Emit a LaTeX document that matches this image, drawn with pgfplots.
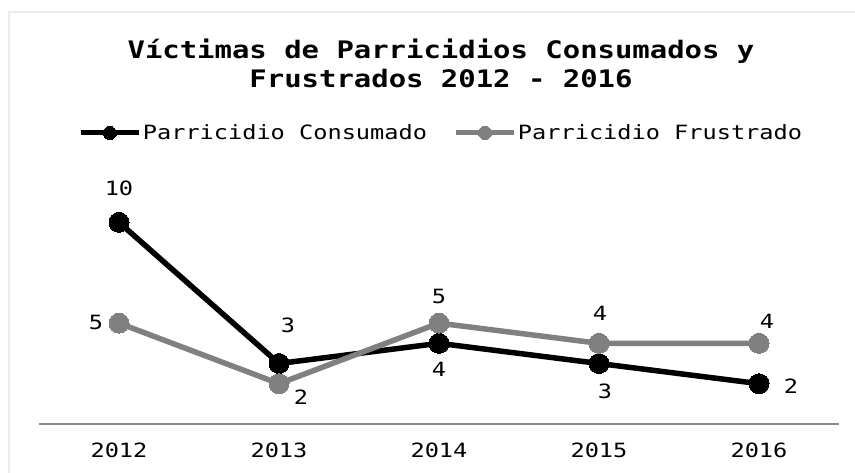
\documentclass[border=0pt]{standalone}
\usepackage{pgfplots}
\pgfplotsset{compat=1.18}
\usepackage{pgfplotstable}
\usepackage{fontspec}
\newfontfamily\chartfont[FakeStretch=1.2]{DejaVu Sans Mono}
\definecolor{serA}{RGB}{0,0,0}
\definecolor{serB}{RGB}{128,128,128}
\definecolor{axgray}{RGB}{137,137,137}
\definecolor{framegray}{RGB}{235,235,235}

\pgfplotstableread{
x y dx dy
0 10 0 34
1 3 9 38
2 4 0 -26
3 3 6 -28
4 2 32 -3
}\consumado
\pgfplotstableread{
x y dx dy
0 5 -23 1
1 2 22 -14
2 5 0 27
3 4 1 30
4 4 8 22
}\frustrado

\newcommand{\smallf}{\chartfont\fontsize{19.66}{23}\selectfont}
\newcommand{\titlef}{\chartfont\bfseries\fontsize{24.1}{29}\selectfont}

\begin{document}
\begin{tikzpicture}[x=1pt,y=1pt]
\useasboundingbox (0,0) rectangle (855,473);
\fill[white] (0,0) rectangle (855,473);
\draw[framegray, line width=1.2pt] (9,0) -- (9,461) -- (856,461);
\node[anchor=base, font=\titlef, inner sep=0pt] at (441,414) {Víctimas de Parricidios Consumados y};
\node[anchor=base, font=\titlef, inner sep=0pt] at (441,385) {Frustrados 2012 - 2016};
\begin{axis}[
  at={(39pt,49pt)}, anchor=south west, scale only axis,
  width=800pt, height=242pt,
  xmin=-0.5, xmax=4.5, ymin=0, ymax=12,
  axis x line=bottom, axis y line=none,
  x axis line style={-, draw=axgray, line width=2pt},
  xtick={0,1,2,3,4}, xticklabels={2012,2013,2014,2015,2016},
  major tick length=0pt,
  xticklabel style={font=\smallf, anchor=center, yshift=-26pt, text=black},
  clip=false,
  legend columns=2,
  legend style={draw=none, fill=none, at={(0.5025,1.2025)}, anchor=center,
    font=\smallf, inner sep=0pt, nodes={inner sep=1.5pt},
    /tikz/every even column/.append style={column sep=25pt}},
  legend image code/.code={\draw[#1, mark repeat=2, mark phase=2, mark size=6.5pt, line width=5pt] plot coordinates {(0pt,0pt) (29pt,0pt) (58pt,0pt)};},
  point meta=explicit symbolic,
  nodes near coords={\pgfplotspointmeta},
  nodes near coords style={font=\smallf, anchor=center, xshift=\dx, yshift=\dy, text=black},
  visualization depends on={\thisrow{dx}\as\dx},
  visualization depends on={\thisrow{dy}\as\dy},
]
\addplot[serA, line width=5.5pt, mark=*, mark size=10pt, mark options={solid, fill=serA, draw=serA, line width=0pt}]
  table[x=x, y=y, meta=y] {\consumado};
\addlegendentry{Parricidio Consumado}
\addplot[serB, line width=5.5pt, mark=*, mark size=10pt, mark options={solid, fill=serB, draw=serB, line width=0pt}]
  table[x=x, y=y, meta=y] {\frustrado};
\addlegendentry{Parricidio Frustrado}
\end{axis}
\end{tikzpicture}
\end{document}
